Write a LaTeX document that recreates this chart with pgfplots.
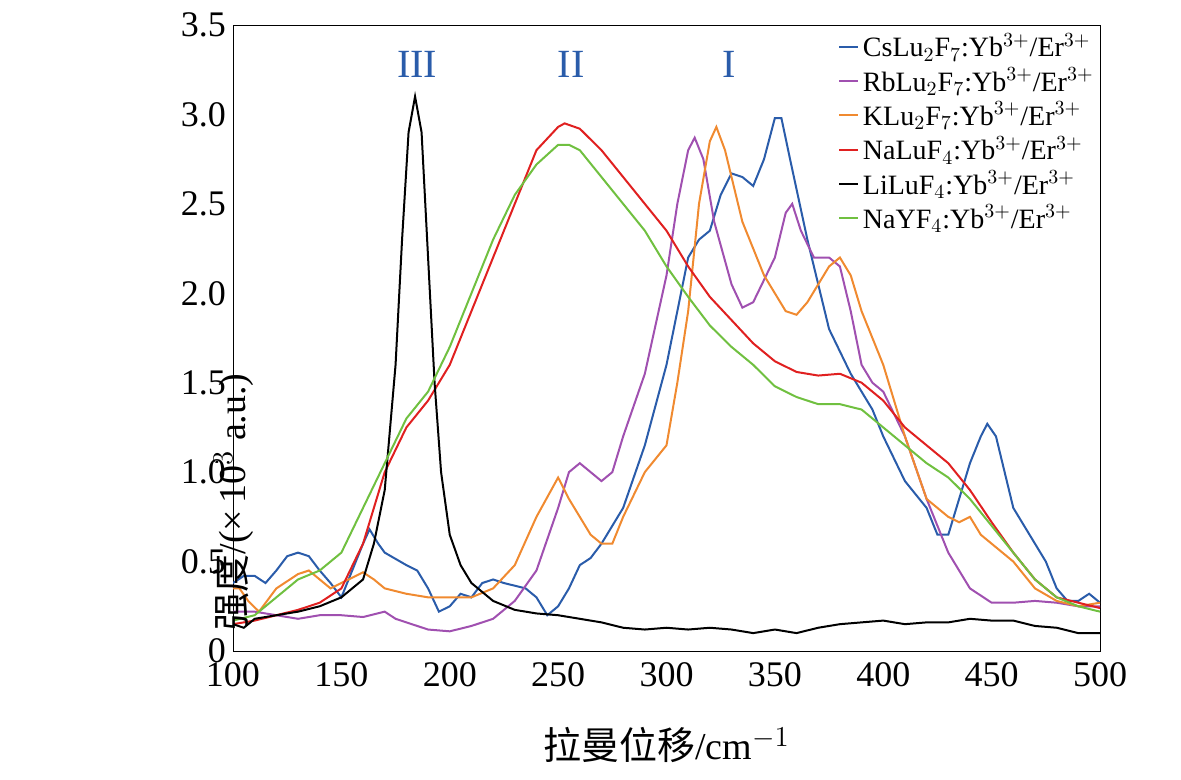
\documentclass[border=0pt]{standalone}
\usepackage{pgfplots}
\pgfplotsset{compat=1.18}
\usepackage{fontspec}
\setmainfont{Liberation Serif}
\newfontfamily\cjk{Noto Sans CJK SC}
\definecolor{cb}{HTML}{2A5CAA}
\definecolor{cp}{HTML}{A050B0}
\definecolor{co}{HTML}{F08A30}
\definecolor{cr}{HTML}{E02020}
\definecolor{cg}{HTML}{70C040}
\begin{document}
\begin{tikzpicture}
\begin{axis}[scale only axis, width=433.5pt, height=313pt,
 xmin=100,xmax=500,ymin=0,ymax=3.5,
 xtick={100,150,...,500}, ytick={0,0.5,...,3.5},
 yticklabels={0,0.5,1.0,1.5,2.0,2.5,3.0,3.5},
 tick label style={font=\fontsize{18}{20}\selectfont},
 /pgf/number format/assume math mode=true,
 major tick length=0pt,
 xticklabel style={yshift=-2pt},
 xlabel={{\cjk 拉曼位移}/cm$^{-1}$}, ylabel={{\cjk 强度}/(×\,10$^3$ a.u.)},
 label style={font=\fontsize{19}{22}\selectfont},
 ylabel style={at={(rel axis cs:0,0.5)}, xshift=-82pt, anchor=center},
 xlabel style={at={(rel axis cs:0.5,0)}, yshift=-47pt, anchor=center},
 legend style={draw=none, fill=none, at={(1,1)}, anchor=north east, font=\fontsize{14}{16}\selectfont, row sep=0pt, inner xsep=1pt},
 legend cell align=left,
 legend image post style={xscale=0.55},
 every axis plot/.append style={line width=1pt},
]
\addplot[cb] coordinates {(100,0.38)(105,0.42)(110,0.42)(115,0.38)(120,0.45)(125,0.53)(130,0.55)(135,0.53)(140,0.45)(145,0.38)(150,0.30)(155,0.45)(160,0.60)(163,0.68)(167,0.60)(170,0.55)(180,0.48)(185,0.45)(190,0.35)(195,0.22)(200,0.25)(205,0.32)(210,0.30)(215,0.38)(220,0.40)(225,0.38)(235,0.35)(240,0.30)(245,0.20)(250,0.25)(255,0.35)(260,0.48)(265,0.52)(270,0.6)(280,0.8)(290,1.15)(300,1.6)(310,2.2)(315,2.3)(320,2.35)(325,2.55)(330,2.67)(335,2.65)(340,2.6)(345,2.75)(350,2.98)(353,2.98)(357,2.75)(365,2.3)(375,1.8)(385,1.55)(395,1.35)(400,1.2)(410,0.95)(420,0.8)(425,0.65)(430,0.65)(435,0.85)(440,1.05)(445,1.2)(448,1.27)(452,1.2)(460,0.8)(470,0.6)(475,0.5)(480,0.35)(485,0.28)(490,0.28)(495,0.32)(500,0.27)};
\addlegendentry{CsLu$_2$F$_7$:Yb$^{3+}$/Er$^{3+}$}
\addplot[cp] coordinates {(100,0.22)(110,0.22)(120,0.2)(130,0.18)(140,0.2)(150,0.2)(160,0.19)(170,0.22)(175,0.18)(180,0.16)(190,0.12)(200,0.11)(210,0.14)(220,0.18)(230,0.28)(240,0.45)(250,0.8)(255,1.0)(260,1.05)(265,1.0)(270,0.95)(275,1.0)(280,1.2)(290,1.55)(300,2.1)(305,2.5)(310,2.8)(313,2.87)(317,2.75)(322,2.4)(330,2.05)(335,1.92)(340,1.95)(350,2.2)(355,2.45)(358,2.5)(362,2.35)(368,2.2)(375,2.2)(380,2.15)(385,1.9)(390,1.6)(395,1.5)(400,1.45)(410,1.2)(420,0.85)(430,0.55)(440,0.35)(450,0.27)(460,0.27)(470,0.28)(480,0.27)(490,0.25)(500,0.25)};
\addlegendentry{RbLu$_2$F$_7$:Yb$^{3+}$/Er$^{3+}$}
\addplot[co] coordinates {(100,0.35)(103,0.35)(107,0.28)(112,0.22)(120,0.35)(130,0.43)(135,0.45)(140,0.40)(145,0.35)(150,0.38)(160,0.44)(165,0.40)(170,0.35)(180,0.32)(190,0.30)(200,0.30)(210,0.30)(220,0.35)(230,0.48)(240,0.75)(250,0.97)(255,0.85)(260,0.75)(265,0.65)(270,0.6)(275,0.6)(280,0.75)(290,1.0)(300,1.15)(305,1.5)(310,1.9)(315,2.5)(320,2.85)(323,2.93)(327,2.8)(335,2.4)(345,2.1)(355,1.9)(360,1.88)(365,1.95)(375,2.15)(380,2.2)(385,2.1)(390,1.9)(400,1.6)(410,1.2)(420,0.85)(430,0.75)(435,0.72)(440,0.75)(445,0.65)(450,0.60)(460,0.5)(470,0.35)(480,0.28)(490,0.25)(500,0.27)};
\addlegendentry{KLu$_2$F$_7$:Yb$^{3+}$/Er$^{3+}$}
\addplot[cr] coordinates {(100,0.15)(110,0.17)(120,0.2)(130,0.23)(140,0.27)(150,0.35)(160,0.6)(170,1.0)(180,1.25)(190,1.4)(200,1.6)(210,1.9)(220,2.2)(230,2.5)(240,2.8)(250,2.93)(253,2.95)(260,2.92)(270,2.8)(280,2.65)(290,2.5)(300,2.35)(310,2.15)(320,1.98)(330,1.85)(340,1.72)(350,1.62)(360,1.56)(370,1.54)(380,1.55)(390,1.5)(400,1.4)(410,1.25)(420,1.15)(430,1.05)(440,0.9)(450,0.72)(460,0.55)(470,0.4)(480,0.3)(490,0.27)(500,0.24)};
\addlegendentry{NaLuF$_4$:Yb$^{3+}$/Er$^{3+}$}
\addplot[black] coordinates {(100,0.15)(105,0.13)(110,0.18)(120,0.2)(130,0.22)(140,0.25)(150,0.3)(160,0.4)(165,0.6)(170,0.9)(175,1.6)(178,2.3)(181,2.9)(184,3.1)(187,2.9)(190,2.2)(193,1.5)(196,1.0)(200,0.65)(205,0.48)(210,0.38)(220,0.28)(230,0.23)(240,0.21)(250,0.2)(260,0.18)(270,0.16)(280,0.13)(290,0.12)(300,0.13)(310,0.12)(320,0.13)(330,0.12)(340,0.1)(350,0.12)(360,0.1)(370,0.13)(380,0.15)(390,0.16)(400,0.17)(410,0.15)(420,0.16)(430,0.16)(440,0.18)(450,0.17)(460,0.17)(470,0.14)(480,0.13)(490,0.1)(500,0.1)};
\addlegendentry{LiLuF$_4$:Yb$^{3+}$/Er$^{3+}$}
\addplot[cg] coordinates {(100,0.17)(110,0.2)(120,0.3)(130,0.4)(140,0.45)(150,0.55)(160,0.8)(170,1.05)(180,1.3)(190,1.45)(200,1.7)(210,2.0)(220,2.3)(230,2.55)(240,2.72)(250,2.83)(255,2.83)(260,2.8)(270,2.65)(280,2.5)(290,2.35)(300,2.15)(310,1.98)(320,1.82)(330,1.7)(340,1.6)(350,1.48)(360,1.42)(370,1.38)(380,1.38)(390,1.35)(400,1.25)(410,1.15)(420,1.05)(430,0.97)(440,0.85)(450,0.7)(460,0.55)(470,0.4)(480,0.3)(490,0.25)(500,0.22)};
\addlegendentry{NaYF$_4$:Yb$^{3+}$/Er$^{3+}$}
\node[cb,font=\fontsize{20}{22}\selectfont] at (axis cs:185,3.28) {III};
\node[cb,font=\fontsize{20}{22}\selectfont] at (axis cs:256,3.28) {II};
\node[cb,font=\fontsize{20}{22}\selectfont] at (axis cs:329,3.28) {I};
\end{axis}
\pgfresetboundingbox
\path[use as bounding box] ([xshift=-116.5pt,yshift=-64.5pt]current axis.south west) rectangle ([xshift=40.5pt,yshift=12.5pt]current axis.north east);
\end{tikzpicture}
\end{document}
